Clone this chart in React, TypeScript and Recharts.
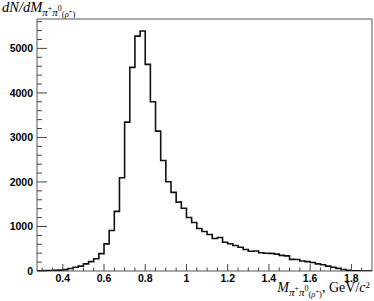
import { LineChart, Line, XAxis, YAxis, ReferenceArea } from 'recharts';

// bin edges (GeV/c^2), last entry is the upper edge of the last bin
const binEdges = [
  0.275, 0.3, 0.325, 0.35, 0.375, 0.4, 0.425, 0.45, 0.475, 0.5, 0.525, 0.55, 0.575,
  0.6, 0.625, 0.65, 0.675, 0.7, 0.725, 0.75, 0.775, 0.8, 0.825, 0.85, 0.875, 0.9,
  0.925, 0.95, 0.975, 1.0, 1.025, 1.05, 1.075, 1.1, 1.125, 1.15, 1.175, 1.2, 1.225,
  1.25, 1.275, 1.3, 1.325, 1.35, 1.375, 1.4, 1.425, 1.45, 1.475, 1.5, 1.525, 1.55,
  1.575, 1.6, 1.625, 1.65, 1.675, 1.7, 1.725, 1.75, 1.775, 1.8, 1.825, 1.85, 1.875, 1.9,
];

const binCounts = [
  5, 8, 10, 14, 20, 30, 55, 85, 110, 160, 210, 275, 390,
  610, 910, 1340, 2094, 3343, 4573, 5276, 5390, 4640, 3800, 3142, 2483, 2004,
  1765, 1546, 1411, 1200, 1090, 955, 888, 820, 730, 752, 647, 611, 573,
  535, 483, 445, 450, 409, 400, 395, 380, 350, 340, 262, 258, 225,
  210, 190, 160, 140, 110, 85, 60, 35, 15, 5, 2, 1, 0,
];

const xMajor = [0.4, 0.6, 0.8, 1, 1.2, 1.4, 1.6, 1.8];
const xMinor = [
  0.3, 0.35, 0.45, 0.5, 0.55, 0.65, 0.7, 0.75, 0.85, 0.9, 0.95, 1.05, 1.1, 1.15,
  1.25, 1.3, 1.35, 1.45, 1.5, 1.55, 1.65, 1.7, 1.75, 1.85,
];
const yMajor = [0, 1000, 2000, 3000, 4000, 5000];
const yMinor = [
  200, 400, 600, 800, 1200, 1400, 1600, 1800, 2200, 2400, 2600, 2800, 3200, 3400,
  3600, 3800, 4200, 4400, 4600, 4800, 5200, 5400, 5600,
];

const X_MIN = 0.275;
const X_MAX = 1.9;
const Y_MAX = 5660;

const data = binEdges.map((x, i) => ({
  x,
  y: binCounts[Math.min(i, binCounts.length - 1)],
}));

const isMajor = (list: number[], v: number) => list.some((m) => Math.abs(m - v) < 1e-6);

const labelFont = { fontFamily: '"Liberation Sans", Arial, sans-serif', fontSize: 10.5, fontWeight: 700 };
const serifFamily = '"Liberation Serif", "Times New Roman", serif';

function XTick(props: any) {
  const { x, y, payload } = props;
  const major = isMajor(xMajor, payload.value);
  return (
    <g>
      <line x1={x} x2={x} y1={y} y2={y - (major ? 7 : 3.5)} stroke="#444" />
      {major && (
        <text x={x} y={y + 10.5} textAnchor="middle" fill="#000" style={labelFont}>
          {String(payload.value)}
        </text>
      )}
    </g>
  );
}

function YTick(props: any) {
  const { x, y, payload } = props;
  const major = isMajor(yMajor, payload.value);
  return (
    <g>
      <line x1={x} x2={x + (major ? 10 : 5)} y1={y} y2={y} stroke="#444" />
      {major && (
        <text x={x - 4} y={y + 4} textAnchor="end" fill="#000" style={labelFont}>
          {String(payload.value)}
        </text>
      )}
    </g>
  );
}

export default function App() {
  return (
    <div style={{ position: 'absolute', left: 0, top: 0, background: '#fff' }}>
      <LineChart width={374} height={301} data={data} margin={{ top: 19, right: 2, left: 0, bottom: 0 }}>
        <XAxis
          dataKey="x"
          type="number"
          domain={[X_MIN, X_MAX]}
          ticks={[...xMajor, ...xMinor]}
          interval={0}
          height={30}
          tickSize={0}
          tickMargin={0}
          axisLine={false}
          tickLine={false}
          tick={<XTick />}
          allowDataOverflow
        />
        <YAxis
          type="number"
          domain={[0, Y_MAX]}
          ticks={[...yMajor, ...yMinor]}
          interval={0}
          width={37}
          tickSize={0}
          tickMargin={0}
          axisLine={false}
          tickLine={false}
          tick={<YTick />}
          allowDataOverflow
        />
        <ReferenceArea x1={X_MIN} x2={X_MAX} y1={0} y2={Y_MAX} fill="none" stroke="#555" strokeWidth={1} ifOverflow="visible" />
        <Line
          type="stepAfter"
          dataKey="y"
          stroke="#111"
          strokeWidth={1.6}
          dot={false}
          isAnimationActive={false}
        />
        <text x={2} y={12} fill="#000" style={{ fontFamily: serifFamily, fontSize: 14.5 }}>
          <tspan fontStyle="italic">dN/dM</tspan>
          <tspan fontSize={11} dy={3.5} fontStyle="italic">π</tspan>
          <tspan fontSize={8} dy={-4.5}>+</tspan>
          <tspan fontSize={11} dy={4.5} fontStyle="italic">π</tspan>
          <tspan fontSize={8} dy={-4.5}>0</tspan>
          <tspan fontSize={8.5} dy={5.5}>(</tspan>
          <tspan fontSize={8.5} fontStyle="italic">ρ</tspan>
          <tspan fontSize={6.5} dy={-3}>+</tspan>
          <tspan fontSize={8.5} dy={3}>)</tspan>
        </text>
        <text x={370} y={292} textAnchor="end" fill="#000" style={{ fontFamily: serifFamily, fontSize: 14 }}>
          <tspan fontStyle="italic">M</tspan>
          <tspan fontSize={11} dy={3.5} fontStyle="italic">π</tspan>
          <tspan fontSize={8} dy={-4.5}>+</tspan>
          <tspan fontSize={11} dy={4.5} fontStyle="italic">π</tspan>
          <tspan fontSize={8} dy={-4.5}>0</tspan>
          <tspan fontSize={8.5} dy={5.5}>(</tspan>
          <tspan fontSize={8.5} fontStyle="italic">ρ</tspan>
          <tspan fontSize={6.5} dy={-3}>+</tspan>
          <tspan fontSize={8.5} dy={3}>)</tspan>
          <tspan dy={-4.5}>, GeV/</tspan>
          <tspan fontStyle="italic">c</tspan>
          <tspan fontSize={9} dy={-4}>2</tspan>
        </text>
      </LineChart>
    </div>
  );
}
